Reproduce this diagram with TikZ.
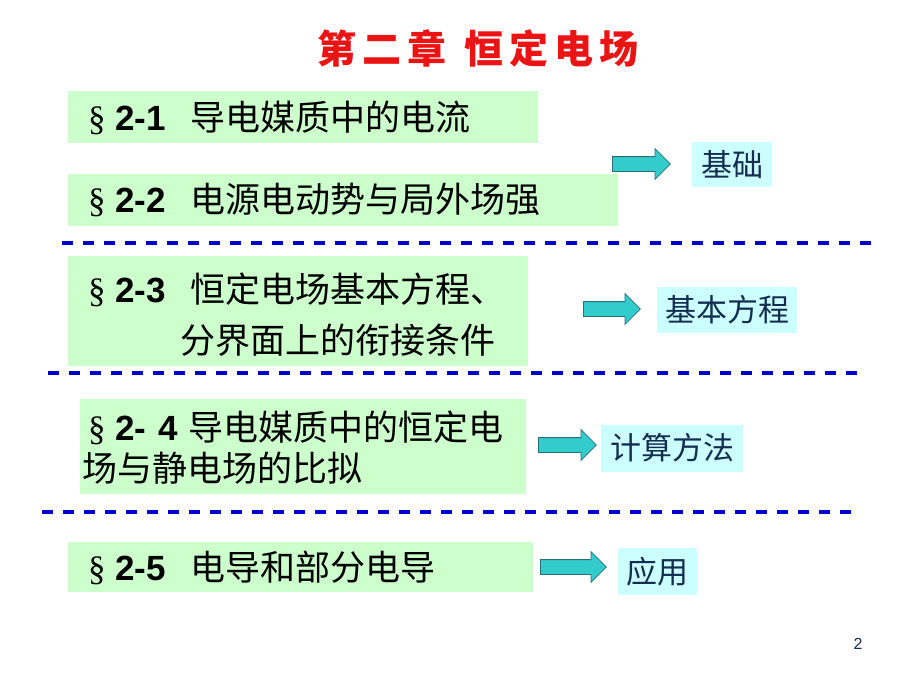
\documentclass[tikz,border=0pt]{standalone}
\usepackage{fontspec}
\setmainfont{Liberation Sans}
\newfontfamily\cjk{Noto Sans CJK SC}
\newfontfamily\latf{Liberation Sans}
\newfontfamily\serf{Liberation Serif}
\usetikzlibrary{shapes.arrows}
\definecolor{boxgreen}{RGB}{204,255,204}
\definecolor{boxcyan}{RGB}{204,255,255}
\definecolor{arrowfill}{RGB}{51,204,204}
\definecolor{arrowline}{RGB}{40,110,120}
\definecolor{dashblue}{RGB}{0,0,204}
\definecolor{labeltext}{RGB}{20,45,80}
\definecolor{titlered}{RGB}{235,20,20}
\newcommand\secmark{\makebox[27pt][l]{\serf §}}
\newcommand\secnum[1]{\secmark\makebox[75pt][l]{\latf\bfseries #1}}
\begin{document}
\begin{tikzpicture}[x=1pt,y=-1pt,
  greenbox/.style={fill=boxgreen, draw=none, anchor=north west, inner sep=0pt},
  maintext/.style={anchor=west, inner sep=0pt, font=\cjk\fontsize{35}{40}\selectfont},
  labelbox/.style={fill=boxcyan, draw=none, inner sep=0pt, text=labeltext, font=\cjk\fontsize{31}{36}\selectfont},
  fatarrow/.style={single arrow, fill=arrowfill, draw=arrowline, line width=0.8pt,
    inner xsep=0pt, inner ysep=7pt, single arrow head extend=8pt, anchor=tail},
  sepline/.style={draw=dashblue, line width=3.5pt, dash pattern=on 11pt off 10pt}
]
\useasboundingbox (0,0) rectangle (920,690);

% title
\node[inner sep=0pt, text=titlered, font=\cjk\bfseries\fontsize{39}{44}\selectfont] (title) at (478,48)
  {第\kern6pt 二\kern6pt 章\kern18pt 恒\kern6pt 定\kern6pt 电\kern6pt 场};

% green boxes
\node[greenbox, minimum width=470, minimum height=52] (b1) at (68,91) {};
\node[greenbox, minimum width=550, minimum height=52] (b2) at (68,174) {};
\node[greenbox, minimum width=460, minimum height=110] (b3) at (68,256) {};
\node[greenbox, minimum width=446, minimum height=95] (b4) at (80,399) {};
\node[greenbox, minimum width=465, minimum height=50] (b5) at (68,542) {};

% texts
\node[maintext] (t1) at (88,118) {\secnum{2-1}导电媒质中的电流};
\node[maintext] (t2) at (88,200) {\secnum{2-2}电源电动势与局外场强};
\node[maintext] (t3a) at (88,290) {\secnum{2-3}恒定电场基本方程、};
\node[maintext] (t3b) at (180,340) {分界面上的衔接条件};
\node[maintext] (t4a) at (88,428) {\secmark\makebox[43pt][l]{\latf\bfseries 2-}\makebox[30pt][l]{\latf\bfseries 4}导电媒质中的恒定电};
\node[maintext] (t4b) at (82,468) {场与静电场的比拟};
\node[maintext] (t5) at (88,568) {\secnum{2-5}电导和部分电导};

% dashed separators
\coordinate (d1a) at (62,243);  \coordinate (d1b) at (872,243);
\coordinate (d2a) at (48,373);  \coordinate (d2b) at (858,373);
\coordinate (d3a) at (42,512);  \coordinate (d3b) at (852,512);
\draw[sepline] (d1a) -- (d1b);
\draw[sepline] (d2a) -- (d2b);
\draw[sepline] (d3a) -- (d3b);

% arrows
\node[fatarrow, minimum height=58] (a1) at (612,164) {};
\node[fatarrow, minimum height=57] (a2) at (583,309) {};
\node[fatarrow, minimum height=58] (a3) at (538,445) {};
\node[fatarrow, minimum height=66] (a4) at (540,567) {};

% label boxes
\node[labelbox, minimum width=80, minimum height=45] (l1) at (732,164.5) {基础};
\node[labelbox, minimum width=140, minimum height=46] (l2) at (727,310) {基本方程};
\node[labelbox, minimum width=142, minimum height=47] (l3) at (672,448) {计算方法};
\node[labelbox, minimum width=79, minimum height=47] (l4) at (657.5,571.5) {应用};

% page number
\node[inner sep=0pt, text=labeltext, font=\latf\fontsize{16}{18}\selectfont] (pg) at (858,644) {2};
\end{tikzpicture}
\end{document}
